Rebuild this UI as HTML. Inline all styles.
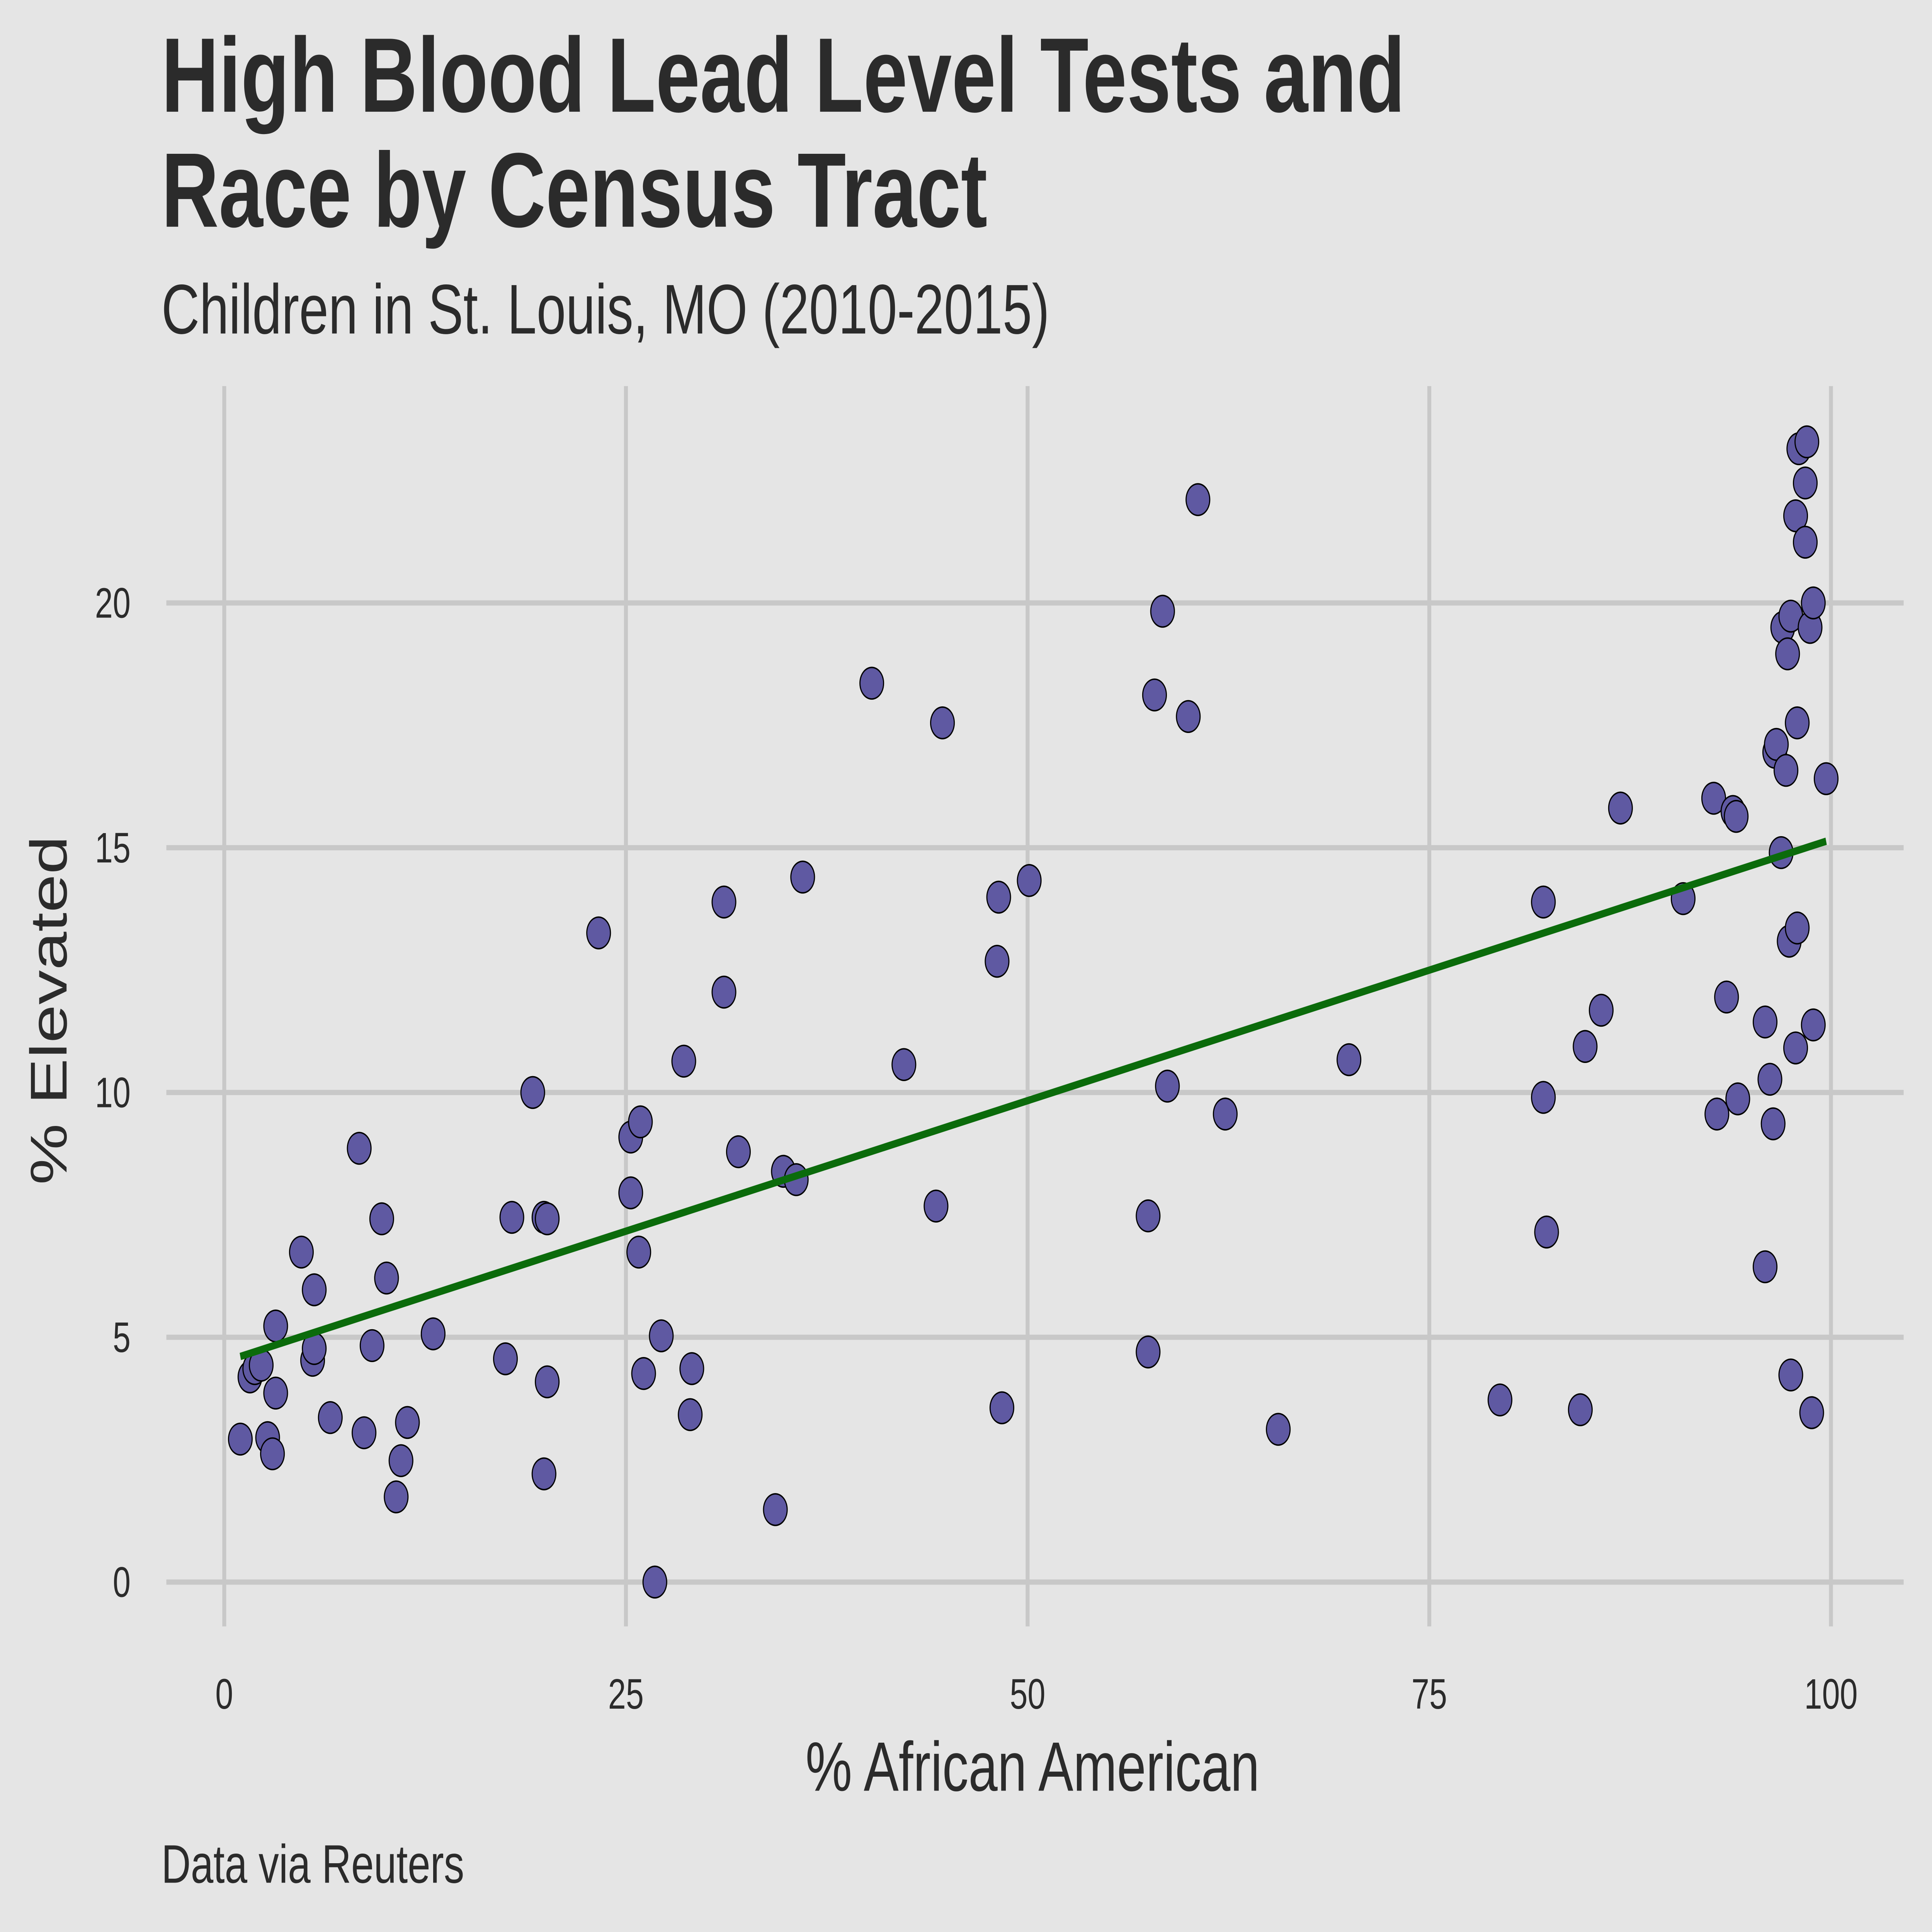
<!DOCTYPE html>
<html><head><meta charset="utf-8"><style>
html,body{margin:0;padding:0;background:#e5e5e5;width:100%;height:100%;overflow:hidden;}
svg{display:block;position:fixed;left:0;top:0;width:100vw;height:100vh;}
text{font-family:"Liberation Sans",Helvetica,Arial,sans-serif;fill:#2b2b2b;}
</style></head><body>
<svg id="chart" viewBox="0 0 1568 1176" preserveAspectRatio="none" xmlns="http://www.w3.org/2000/svg">
<rect width="1568" height="1176" fill="#e5e5e5"/>
<text x="131" y="68" font-size="64.5" font-weight="bold">High Blood Lead Level Tests and</text>
<text x="131" y="138" font-size="64.5" font-weight="bold">Race by Census Tract</text>
<text x="131" y="203" font-size="42.8">Children in St. Louis, MO (2010-2015)</text>
<g id="grid"></g>
<g id="ticks"></g>
<g id="marks"></g>
<text x="838" y="1090" font-size="42.5" text-anchor="middle">% African American</text>
<text transform="translate(54,615) rotate(-90)" font-size="42" text-anchor="middle">% Elevated</text>
<text x="131" y="1146" font-size="33">Data via Reuters</text>
</svg>
<script>
const xTicks=[0,25,50,75,100];
const yTicks=[0,5,10,15,20];
const pctAfricanAmerican=[1.0,1.6,1.9,2.3,3.2,2.7,3.0,3.2,4.8,5.6,5.5,5.6,6.6,8.4,8.7,9.2,9.8,10.1,10.7,11.0,11.4,13.0,17.5,17.9,19.2,19.9,20.1,20.1,19.9,23.3,25.3,25.3,25.9,25.8,26.1,27.2,26.8,28.6,29.0,29.1,31.1,31.1,32.0,34.3,34.8,35.6,36.0,40.3,42.3,44.3,44.7,48.1,48.2,48.4,50.1,57.5,57.5,57.9,58.4,58.7,60.0,60.6,62.3,65.6,70.0,79.4,82.1,82.1,82.3,84.4,84.7,85.7,86.9,90.8,92.7,92.9,93.5,93.9,94.1,94.2,95.9,95.9,96.2,96.4,96.5,96.6,96.9,97.0,97.2,97.3,97.4,97.5,97.5,97.8,97.8,97.9,97.9,98.0,98.4,98.4,98.5,98.7,98.8,98.9,98.9,99.7];
const pctElevated=[2.92,4.19,4.36,4.43,3.86,2.95,2.62,5.23,6.74,5.97,4.53,4.77,3.36,8.86,3.05,4.83,7.42,6.21,1.74,2.48,3.26,5.07,4.56,7.45,10.0,7.45,7.42,4.09,2.21,13.26,9.09,7.95,9.40,6.74,4.26,5.03,0.0,10.64,3.42,4.36,13.89,12.05,8.79,1.48,8.39,8.22,14.40,18.36,10.57,7.68,17.55,12.68,13.99,3.56,14.33,7.48,4.70,18.12,19.83,10.13,17.68,22.11,9.56,3.12,10.67,3.72,13.89,9.90,7.15,3.52,10.94,11.68,15.81,13.96,16.01,9.56,11.95,15.74,15.64,9.87,11.44,6.44,10.27,9.36,16.95,17.11,14.90,19.50,16.58,18.96,13.09,4.23,19.73,10.91,21.78,13.36,17.55,23.15,22.45,21.24,23.29,19.50,3.46,20.0,11.38,16.41];
const NS="http://www.w3.org/2000/svg";
const sx=v=>182+v*13.04;
const sy=v=>963-v*29.8;
function mk(tag,attrs,parent){const e=document.createElementNS(NS,tag);for(const k in attrs)e.setAttribute(k,attrs[k]);parent.appendChild(e);return e;}
const grid=document.getElementById('grid'),ticks=document.getElementById('ticks'),marks=document.getElementById('marks');
yTicks.forEach(t=>{
  const l=mk('line',{x1:135,x2:1545,y1:sy(t),y2:sy(t),stroke:'#c8c8c8','stroke-width':3.2},grid);
  
  
  const tx=mk('text',{x:106,y:sy(t)+9,'font-size':26,'text-anchor':'end',fill:'#3c3c3c'},ticks);
  tx.textContent=t;
  
  
});
xTicks.forEach(t=>{
  const l=mk('line',{x1:sx(t),x2:sx(t),y1:235,y2:990,stroke:'#c8c8c8','stroke-width':3.2},grid);
  
  
  const tx=mk('text',{x:sx(t),y:1040,'font-size':26,'text-anchor':'middle',fill:'#3c3c3c'},ticks);
  tx.textContent=t;
  
  
});
const n=pctAfricanAmerican.length;
let mx=0,my=0;for(let i=0;i<n;i++){mx+=pctAfricanAmerican[i];my+=pctElevated[i];}mx/=n;my/=n;
let sxy=0,sxx=0;for(let i=0;i<n;i++){sxy+=(pctAfricanAmerican[i]-mx)*(pctElevated[i]-my);sxx+=(pctAfricanAmerican[i]-mx)**2;}
const b=sxy/sxx,a=my-b*mx;
const xmin=Math.min(...pctAfricanAmerican),xmax=Math.max(...pctAfricanAmerican);
pctAfricanAmerican.forEach((x,i)=>{
  const c=mk('circle',{cx:sx(x),cy:sy(pctElevated[i]),r:9.6,fill:'#5f59a2',stroke:'#000','stroke-width':0.9},marks);
  
  
});
const fl=mk('line',{x1:sx(xmin),y1:sy(a+b*xmin),x2:sx(xmax),y2:sy(a+b*xmax),stroke:'#0b6b0b','stroke-width':4.5},marks);


</script>
</body></html>
